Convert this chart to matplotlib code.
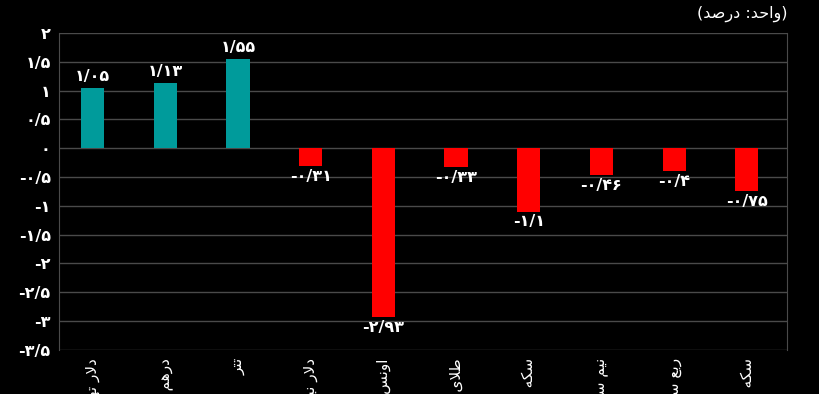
import matplotlib
matplotlib.use("Agg")
import matplotlib.pyplot as plt

# ---------------- data ----------------
categories = ["دلار تهران", "درهم امارات", "تتر", "دلار نیمایی", "اونس جهانی طلا",
              "طلای آب\u200cشده", "سکه امامی", "نیم سکه", "ربع سکه", "سکه ۱ گرمی"]
values = [1.05, 1.13, 1.55, -0.31, -2.93, -0.33, -1.1, -0.46, -0.4, -0.75]
y_ticks = [2, 1.5, 1, 0.5, 0, -0.5, -1, -1.5, -2, -2.5, -3, -3.5]
unit_label = "(واحد: درصد)"

# ---------------- minimal Persian shaping ----------------
DUAL = {
    'ب': (0xFE8F, 0xFE90, 0xFE91, 0xFE92), 'ت': (0xFE95, 0xFE96, 0xFE97, 0xFE98),
    'ج': (0xFE9D, 0xFE9E, 0xFE9F, 0xFEA0), 'ح': (0xFEA1, 0xFEA2, 0xFEA3, 0xFEA4),
    'س': (0xFEB1, 0xFEB2, 0xFEB3, 0xFEB4), 'ش': (0xFEB5, 0xFEB6, 0xFEB7, 0xFEB8),
    'ص': (0xFEB9, 0xFEBA, 0xFEBB, 0xFEBC), 'ط': (0xFEC1, 0xFEC2, 0xFEC3, 0xFEC4),
    'ع': (0xFEC9, 0xFECA, 0xFECB, 0xFECC), 'ل': (0xFEDD, 0xFEDE, 0xFEDF, 0xFEE0),
    'م': (0xFEE1, 0xFEE2, 0xFEE3, 0xFEE4), 'ن': (0xFEE5, 0xFEE6, 0xFEE7, 0xFEE8),
    'ه': (0xFEE9, 0xFEEA, 0xFEEB, 0xFEEC), 'ی': (0xFBFC, 0xFBFD, 0xFBFE, 0xFBFF),
    'ک': (0xFB8E, 0xFB8F, 0xFB90, 0xFB91), 'گ': (0xFB92, 0xFB93, 0xFB94, 0xFB95),
}
RIGHT = {
    'ا': (0xFE8D, 0xFE8E), 'آ': (0xFE81, 0xFE82), 'د': (0xFEA9, 0xFEAA),
    'ر': (0xFEAD, 0xFEAE), 'ز': (0xFEAF, 0xFEB0), 'و': (0xFEED, 0xFEEE),
}
LAMALEF = {'ا': (0xFEFB, 0xFEFC), 'آ': (0xFEF5, 0xFEF6)}
MIRROR = {'(': ')', ')': '('}


def shape(s):
    ch = list(s)
    n = len(ch)
    out = []
    i = 0
    while i < n:
        c = ch[i]
        prev = i > 0 and ch[i - 1] in DUAL
        if c == 'ل' and i + 1 < n and ch[i + 1] in LAMALEF:
            f = LAMALEF[ch[i + 1]]
            out.append(chr(f[1] if prev else f[0]))
            i += 2
            continue
        if c in DUAL:
            nxt = i + 1 < n and (ch[i + 1] in DUAL or ch[i + 1] in RIGHT)
            f = DUAL[c]
            if prev and nxt:
                out.append(chr(f[3]))
            elif prev:
                out.append(chr(f[1]))
            elif nxt:
                out.append(chr(f[2]))
            else:
                out.append(chr(f[0]))
        elif c in RIGHT:
            f = RIGHT[c]
            out.append(chr(f[1] if prev else f[0]))
        elif c == '\u200c':
            pass
        else:
            out.append(c)
        i += 1
    return ''.join(MIRROR.get(c, c) for c in reversed(out))


FA_DIGITS = str.maketrans("0123456789", "۰۱۲۳۴۵۶۷۸۹")


def fa_num(v, sep='/'):
    s = f"{v:g}"
    return s.replace(".", sep).translate(FA_DIGITS)


# ---------------- plot ----------------
plt.rcParams['font.family'] = ['DejaVu Sans']
fig = plt.figure(figsize=(8.2, 3.94), dpi=100, facecolor='black')
ax = fig.add_axes([0.072, 0.112, 0.888, 0.804])
ax.set_facecolor('black')

teal = '#009B9B'
red = '#FF0000'
colors = [teal if v >= 0 else red for v in values]
x = list(range(len(values)))
ax.bar(x, values, width=0.32, color=colors, zorder=3)

for xi, v in zip(x, values):
    ax.annotate(fa_num(v), (xi, v), xytext=(0, 3 if v >= 0 else -2),
                textcoords='offset points', ha='center',
                va='bottom' if v >= 0 else 'top', color='white',
                fontsize=11.5, fontweight='bold', zorder=4)

ax.set_xlim(-0.46, len(values) - 0.445)
ax.set_ylim(-3.5, 2)
ax.set_yticks(y_ticks)
ax.set_yticklabels([fa_num(t) for t in y_ticks], color='white',
                   fontsize=11.5, fontweight='bold')
ax.set_xticks(x)
ax.set_xticklabels([shape(c) for c in categories], rotation=90, color='white',
                   fontsize=11)
ax.tick_params(axis='both', length=0)
ax.tick_params(axis='x', pad=6)
ax.tick_params(axis='y', pad=6)
ax.grid(axis='y', color='#4a4a4a', linewidth=1, zorder=0)
for side in ['left', 'right']:
    ax.spines[side].set_color('#4a4a4a')
for side in ['top', 'bottom']:
    ax.spines[side].set_visible(False)

fig.text(0.96, 0.965, shape(unit_label), color='white', fontsize=11.5,
         ha='right', va='center')

fig.savefig('out.png', dpi=100, facecolor='black')
